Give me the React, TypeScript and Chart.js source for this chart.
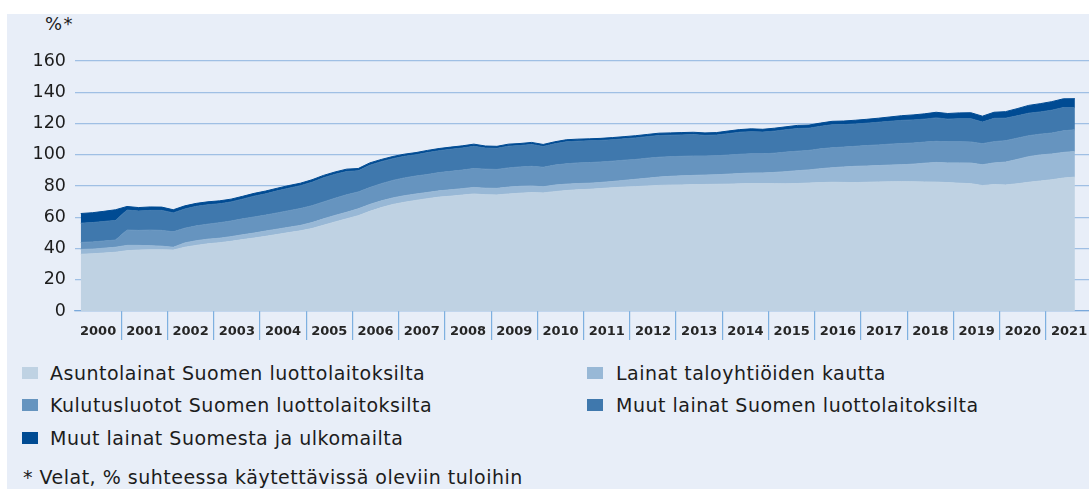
import React, { useEffect, useRef } from 'react';
import { Chart, registerables } from 'chart.js';

Chart.register(...registerables);

// ---------- DATA ----------
const yearLabels = [
  '2000', '2001', '2002', '2003', '2004', '2005', '2006', '2007', '2008', '2009', '2010',
  '2011', '2012', '2013', '2014', '2015', '2016', '2017', '2018', '2019', '2020', '2021',
];
const firstYear = 2000; // quarterly data, 2000Q1 .. 2021Q3
const yTicks = [0, 20, 40, 60, 80, 100, 120, 140, 160];

const seriesNames = [
  'Asuntolainat Suomen luottolaitoksilta',
  'Lainat taloyhtiöiden kautta',
  'Kulutusluotot Suomen luottolaitoksilta',
  'Muut lainat Suomen luottolaitoksilta',
  'Muut lainat Suomesta ja ulkomailta',
];
const seriesColors = ['#bfd2e3', '#98b8d6', '#6694bf', '#3f78ad', '#004b93'];

const asuntolainat = [
  36.3, 36.6, 37.1, 37.6, 38.6, 39.0, 39.2, 39.2, 39.0, 40.8, 42.0, 43.0,
  43.7, 44.6, 45.7, 46.7, 47.8, 49.0, 50.2, 51.3, 52.8, 54.9, 57.0, 59.0,
  61.0, 63.8, 66.2, 68.2, 69.6, 70.8, 71.9, 72.9, 73.5, 74.2, 74.9, 74.4,
  74.3, 74.9, 75.4, 75.8, 75.6, 76.4, 77.1, 77.6, 77.9, 78.4, 78.9, 79.3,
  79.6, 80.0, 80.4, 80.6, 80.7, 80.9, 81.0, 81.1, 81.2, 81.4, 81.6, 81.6,
  81.5, 81.4, 81.6, 81.9, 82.2, 82.4, 82.3, 82.2, 82.4, 82.6, 82.7, 82.8,
  82.7, 82.6, 82.5, 82.2, 81.8, 81.5, 80.3, 80.9, 80.7, 81.4, 82.4, 83.2,
  84.0, 85.1, 85.7,
];
const taloyhtiolainat = [
  3.1, 3.0, 3.1, 3.2, 3.4, 3.0, 2.6, 2.3, 1.8, 2.8, 3.0, 3.0,
  2.9, 3.0, 3.1, 3.2, 3.4, 3.4, 3.4, 3.5, 3.8, 4.1, 4.2, 4.2,
  4.4, 4.4, 4.3, 4.2, 4.2, 4.1, 4.0, 4.0, 4.1, 4.1, 4.2, 4.2,
  4.2, 4.4, 4.4, 4.2, 3.9, 4.2, 4.1, 4.0, 3.9, 3.9, 4.0, 4.3,
  4.7, 5.0, 5.3, 5.6, 5.8, 5.9, 6.0, 6.1, 6.4, 6.6, 6.7, 6.8,
  7.2, 7.8, 8.2, 8.4, 8.9, 9.3, 9.9, 10.4, 10.4, 10.5, 10.7, 10.8,
  11.3, 12.0, 12.6, 12.6, 13.0, 13.2, 13.3, 13.9, 14.6, 15.6, 16.4, 16.7,
  16.5, 16.4, 16.4,
];
const kulutusluotot = [
  4.5, 4.6, 4.6, 4.6, 9.8, 9.6, 10.0, 10.1, 9.9, 9.4, 9.5, 9.6,
  9.9, 10.0, 10.2, 10.3, 10.2, 10.4, 10.6, 10.8, 10.8, 10.8, 11.0, 11.2,
  10.8, 10.8, 11.0, 11.2, 11.4, 11.5, 11.5, 11.7, 11.8, 11.9, 12.1, 12.2,
  12.1, 12.3, 12.4, 12.6, 12.5, 12.8, 13.0, 13.2, 13.2, 13.1, 13.0, 12.9,
  12.7, 12.8, 12.7, 12.6, 12.5, 12.4, 12.2, 12.2, 12.2, 12.3, 12.3, 12.2,
  12.3, 12.5, 12.5, 12.5, 12.7, 12.8, 12.7, 12.8, 13.1, 13.2, 13.4, 13.6,
  13.5, 13.5, 13.5, 13.5, 13.5, 13.5, 13.5, 13.6, 13.7, 13.6, 13.4, 13.3,
  13.4, 13.8, 13.9,
];
const muutSuomenLuottolaitoksilta = [
  12.3, 12.4, 12.5, 12.6, 12.8, 12.4, 12.6, 12.8, 12.1, 12.3, 12.5, 12.4,
  12.1, 12.2, 12.6, 13.3, 13.6, 14.1, 14.4, 14.6, 15.0, 15.5, 15.3, 14.9,
  13.5, 14.3, 14.1, 13.9, 13.8, 13.6, 14.0, 14.0, 14.1, 14.1, 14.2, 13.5,
  13.5, 13.9, 13.7, 14.0, 13.3, 13.6, 14.1, 13.9, 13.9, 13.8, 13.7, 13.7,
  13.8, 13.8, 13.9, 13.7, 13.7, 13.7, 13.2, 13.2, 13.7, 14.1, 14.2, 13.9,
  14.1, 14.3, 14.5, 14.2, 14.4, 14.7, 14.4, 14.3, 14.3, 14.5, 14.6, 14.8,
  14.8, 14.7, 15.0, 14.5, 14.8, 14.9, 13.8, 14.9, 14.4, 14.3, 14.4, 14.2,
  14.6, 14.9, 14.2,
];
const muutSuomestaJaUlkomailta = [
  6.2, 6.3, 6.5, 6.8, 2.3, 2.2, 2.2, 2.1, 2.0, 2.0, 1.9, 1.9,
  1.9, 1.8, 1.8, 1.8, 1.8, 1.7, 1.7, 1.6, 1.6, 1.5, 1.5, 1.5,
  1.5, 1.5, 1.4, 1.4, 1.4, 1.4, 1.4, 1.4, 1.4, 1.4, 1.4, 1.3,
  1.3, 1.3, 1.3, 1.3, 1.3, 1.3, 1.3, 1.3, 1.3, 1.3, 1.4, 1.4,
  1.4, 1.4, 1.5, 1.5, 1.5, 1.5, 1.6, 1.6, 1.7, 1.7, 1.8, 1.8,
  1.9, 1.9, 2.0, 2.0, 2.1, 2.2, 2.3, 2.4, 2.5, 2.6, 2.8, 3.0,
  3.2, 3.4, 3.6, 3.6, 3.7, 3.8, 3.8, 3.9, 4.2, 4.6, 5.0, 5.3,
  5.5, 5.6, 5.7,
];

const seriesValues = [
  asuntolainat,
  taloyhtiolainat,
  kulutusluotot,
  muutSuomenLuottolaitoksilta,
  muutSuomestaJaUlkomailta,
];

const FONT = "'DejaVu Sans', sans-serif";
const TEXT = '#1c1c1c';

export default function App() {
  const canvasRef = useRef<HTMLCanvasElement | null>(null);

  useEffect(() => {
    if (!canvasRef.current) return;
    const first = Number(yearLabels[0]);
    const last = Number(yearLabels[yearLabels.length - 1]);
    // mid-quarter positions
    const xs = asuntolainat.map((_, i) => firstYear + i / 4 + 0.125);

    const chart = new Chart(canvasRef.current, {
      type: 'line',
      data: {
        datasets: seriesValues.map((vals, i) => ({
          label: seriesNames[i],
          data: vals.map((v, j) => ({ x: xs[j], y: v })),
          backgroundColor: seriesColors[i],
          borderColor: seriesColors[i],
          borderWidth: 1,
          pointRadius: 0,
          pointHoverRadius: 0,
          tension: 0,
          fill: i === 0 ? 'origin' : '-1',
        })),
      },
      options: {
        animation: false,
        responsive: true,
        maintainAspectRatio: false,
        layout: { padding: { top: 61, left: 0, right: 0, bottom: 0 } },
        plugins: {
          legend: { display: false },
          tooltip: { enabled: false },
          title: { display: false },
        },
        scales: {
          x: {
            type: 'linear',
            min: first,
            max: last + 0.93,
            afterBuildTicks: (axis: any) => {
              const t: { value: number }[] = [];
              yearLabels.forEach((y, i) => {
                const yr = Number(y);
                if (i > 0) t.push({ value: yr });
                t.push({ value: yr + 0.5 });
              });
              t.sort((a, b) => a.value - b.value);
              axis.ticks = t;
            },
            afterFit: (scale: any) => {
              scale.height = 34;
            },
            ticks: {
              autoSkip: false,
              maxRotation: 0,
              minRotation: 0,
              padding: -16,
              color: '#262626',
              font: { family: FONT, size: 13, weight: 'bold' },
              callback: (value: any) => {
                const v = Number(value);
                if (Number.isInteger(v)) return '';
                return String(Math.floor(v));
              },
            },
            grid: {
              drawOnChartArea: false,
              drawTicks: true,
              tickLength: 29,
              lineWidth: 1.2,
              color: (ctx: any) =>
                ctx.tick && Number.isInteger(ctx.tick.value) ? 'rgba(120,172,222,0.95)' : 'rgba(0,0,0,0)',
            },
            border: { display: true, color: 'rgba(110,160,215,0.75)', width: 1.2 },
          },
          y: {
            stacked: true,
            min: yTicks[0],
            max: yTicks[yTicks.length - 1],
            z: 1,
            afterBuildTicks: (axis: any) => {
              axis.ticks = yTicks.map((v) => ({ value: v }));
            },
            afterFit: (scale: any) => {
              scale.width = 75;
            },
            ticks: {
              padding: 9,
              color: TEXT,
              font: { family: FONT, size: 17.5 },
            },
            grid: {
              drawTicks: false,
              color: 'rgba(110,160,215,0.6)',
              lineWidth: 1.2,
            },
            border: { display: false },
          },
        },
      },
    });
    return () => chart.destroy();
  }, []);

  const legendLeft = [22, 587];
  const rowCenter = (r: number) => 372.5 + r * 32.5;

  return (
    <div
      style={{
        position: 'absolute',
        left: 0,
        top: 0,
        width: 1089,
        height: 489,
        background: '#ffffff',
        overflow: 'hidden',
        fontFamily: FONT,
        color: TEXT,
      }}
    >
      <div
        style={{
          position: 'absolute',
          left: 7,
          top: 14,
          width: 1082,
          height: 475,
          background: '#e8eef8',
        }}
      />
      <div
        style={{
          position: 'absolute',
          left: 45,
          top: 11.5,
          fontSize: 18,
          lineHeight: '24px',
          letterSpacing: '1.5px',
          whiteSpace: 'nowrap',
        }}
      >
        %*
      </div>
      <div style={{ position: 'absolute', left: 0, top: 0, width: 1089, height: 345 }}>
        <canvas ref={canvasRef} />
      </div>
      {seriesNames.map((name, i) => {
        const row = Math.floor(i / 2);
        const col = i % 2;
        return (
          <div
            key={name}
            style={{
              position: 'absolute',
              left: legendLeft[col],
              top: rowCenter(row) - 12,
              height: 24,
              display: 'flex',
              alignItems: 'center',
              whiteSpace: 'nowrap',
            }}
          >
            <span
              style={{
                display: 'inline-block',
                width: 16,
                height: 12,
                background: seriesColors[i],
                marginRight: col === 0 ? 12 : 13,
              }}
            />
            <span style={{ fontSize: 19, lineHeight: '24px', letterSpacing: '0.5px' }}>{name}</span>
          </div>
        );
      })}
      <div
        style={{
          position: 'absolute',
          left: 23,
          top: 476.5 - 12,
          fontSize: 19,
          lineHeight: '24px',
          letterSpacing: '0.5px',
          whiteSpace: 'nowrap',
        }}
      >
        * Velat, % suhteessa käytettävissä oleviin tuloihin
      </div>
    </div>
  );
}
